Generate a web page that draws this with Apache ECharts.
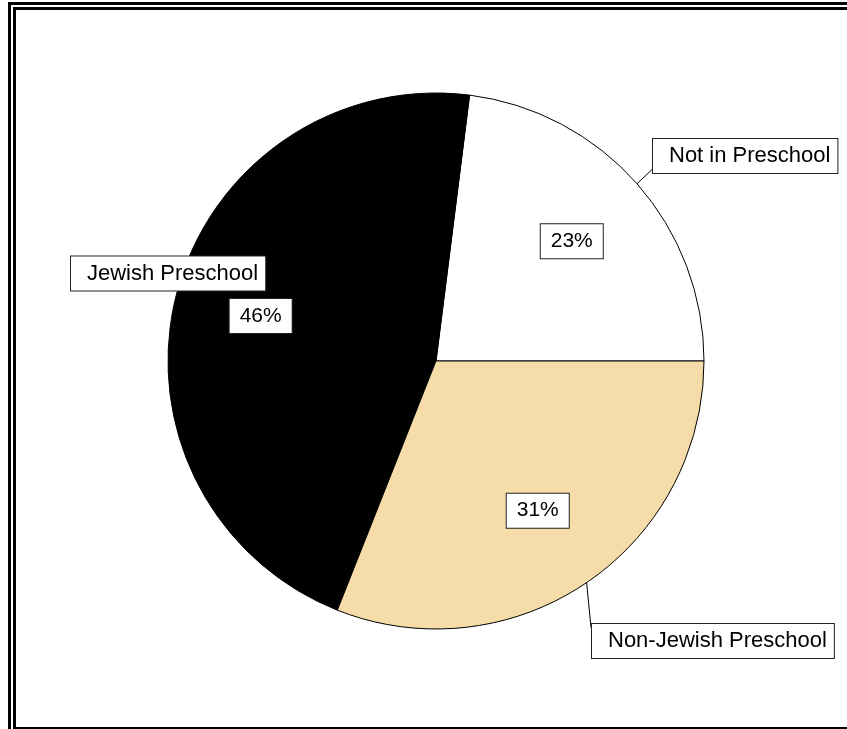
<!DOCTYPE html>
<html>
<head>
<meta charset="utf-8">
<script src="https://cdn.jsdelivr.net/npm/echarts@6/dist/echarts.min.js"></script>
<style>
html,body{margin:0;padding:0;background:#fff;}
#chart{width:847px;height:729px;}
</style>
</head>
<body>
<div id="chart"></div>
<script>
// Data
const categories = ['Not in Preschool', 'Jewish Preschool', 'Non-Jewish Preschool'];
const values = [23, 46, 31];

// Styles / layout (kept separate from data)
const sliceColors = ['#ffffff', '#000000', '#F5DCA8'];
// name label: left edge x, y of the guide attachment (box corner) or box middle
const nameLabelAnchors = [[653, 173], [71, 273.5], [592, 624]];
// where the leader line attaches: 'bottom' = box bottom-left corner, 'top' = box top-left corner, null = no line
const leaderAttach = ['bottom', null, 'top'];

const chart = echarts.init(document.getElementById('chart'), null, {renderer: 'canvas'});

const FF = 'Liberation Sans, Arial, sans-serif';

function nameFormatter(params) {
  const a = leaderAttach[params.dataIndex];
  if (a === 'bottom') return '{box|' + params.name + '}\n{gap| }';
  if (a === 'top') return '{gap| }\n{box|' + params.name + '}';
  return '{box|' + params.name + '}';
}

const option = {
  animation: false,
  backgroundColor: '#ffffff',
  graphic: [
    {type: 'rect', shape: {x: 9.5, y: 3.5, width: 1000, height: 1000}, style: {fill: 'none', stroke: '#000', lineWidth: 3}, silent: true},
    {type: 'rect', shape: {x: 14.5, y: 8.5, width: 1000, height: 720}, style: {fill: 'none', stroke: '#000', lineWidth: 3}, silent: true}
  ],
  series: [
    {
      type: 'pie',
      center: [436, 361],
      radius: 268,
      startAngle: 0,
      clockwise: false,
      avoidLabelOverlap: false,
      silent: true,
      itemStyle: {borderColor: '#000', borderWidth: 1},
      data: categories.map((c, i) => ({
        name: c,
        value: values[i],
        itemStyle: {color: sliceColors[i]},
        labelLine: {show: leaderAttach[i] !== null}
      })),
      label: {
        show: true,
        position: 'outside',
        formatter: nameFormatter,
        fontFamily: FF,
        fontSize: 22,
        color: '#000',
        align: 'left',
        rich: {
          box: {
            fontFamily: FF, fontSize: 22, color: '#000',
            backgroundColor: '#fff', borderColor: '#222', borderWidth: 1,
            padding: [6, 7, 6, 16]
          },
          gap: {
            fontFamily: FF, fontSize: 22, color: 'rgba(0,0,0,0)',
            padding: [6, 0, 6, 0]
          }
        }
      },
      labelLine: {show: true, length: 10, length2: 0, minTurnAngle: 0, lineStyle: {color: '#000', width: 1}},
      labelLayout: function (params) {
        const p = nameLabelAnchors[params.dataIndex];
        return {x: p[0], y: p[1], align: 'left', verticalAlign: 'middle'};
      }
    },
    {
      type: 'pie',
      center: [436, 361],
      radius: 356,
      startAngle: 0,
      clockwise: false,
      avoidLabelOverlap: false,
      silent: true,
      z: 3,
      itemStyle: {color: 'rgba(0,0,0,0)', borderWidth: 0},
      data: categories.map((c, i) => ({name: c, value: values[i]})),
      label: {
        show: true,
        position: 'inside',
        formatter: '{c}%',
        fontFamily: FF,
        fontSize: 21,
        color: '#000',
        backgroundColor: '#fff',
        borderColor: '#222',
        borderWidth: 1,
        padding: [7, 10, 6, 10],
        lineHeight: 21
      },
      labelLine: {show: false}
    }
  ]
};
chart.setOption(option);
</script>
</body>
</html>
